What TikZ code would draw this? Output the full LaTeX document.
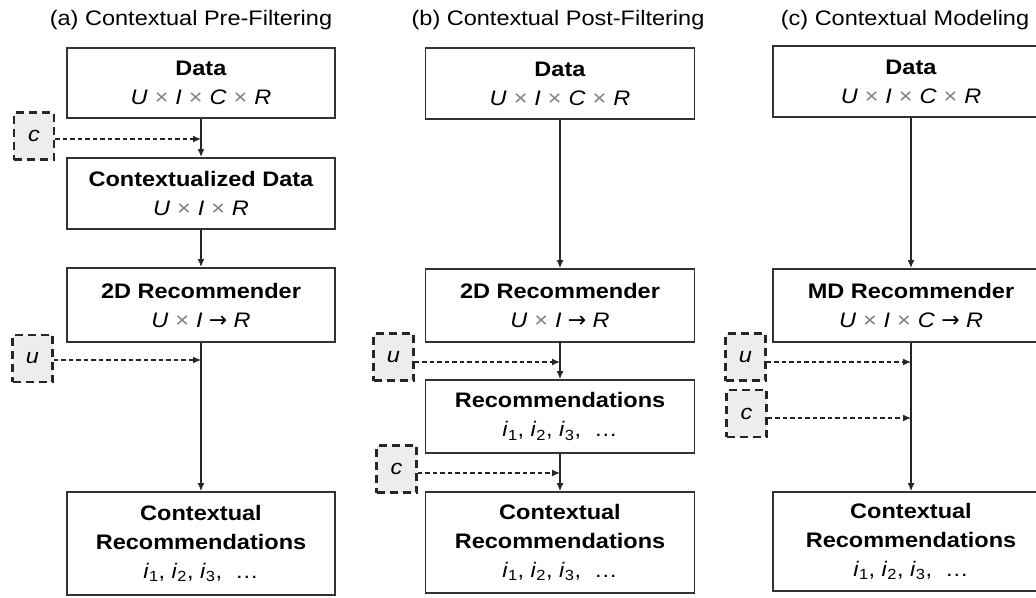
\documentclass[tikz,border=0pt]{standalone}
\usepackage{fontspec}
\setmainfont{Liberation Sans}[FakeStretch=1.12]
\newfontfamily\arrowfont{DejaVu Sans}
\usetikzlibrary{arrows.meta}
\newcommand\mytimes{\hspace{0.33em}{\color{black!50}×}\hspace{0.33em}}
\newcommand\myrarr{\hspace{0.3em}{\arrowfont\fontsize{22}{29}\selectfont →}\hspace{0.3em}}
\newcommand\mylist{\textit{i}\textsubscript{1}, \textit{i}\textsubscript{2}, \textit{i}\textsubscript{3},\ \ …}
\begin{document}
\begin{tikzpicture}[x=1pt,y=-1pt,
  box/.style={draw=black!80, line width=1.8pt, fill=white, align=center, inner sep=0pt,
    font=\fontsize{21}{29}\selectfont},
  colA/.style={box, minimum width=268pt},
  colB/.style={box, minimum width=269pt},
  colC/.style={box, minimum width=276pt},
  dbox/.style={draw=black!85, line width=2.6pt, dash pattern=on 8pt off 5pt, fill=black!7,
    minimum width=40pt, minimum height=47pt, inner sep=0pt, font=\fontsize{21}{25}\selectfont\itshape},
  arr/.style={draw=black!85, line width=1.3pt, -{Latex[length=8pt,width=7pt]}},
  arrb/.style={arr, line width=1.8pt},
  darr/.style={draw=black!85, line width=1.3pt, dash pattern=on 4.5pt off 3pt, -{Latex[length=8pt,width=7pt]}},
  ttl/.style={font=\fontsize{21}{25}\selectfont, inner sep=0pt}]
\useasboundingbox (0,0) rectangle (1036,597);
\clip (0,0) rectangle (1036,597);

% titles
\node[ttl] (ta) at (191,20) {(a) Contextual Pre-Filtering};
\node[ttl] (tb) at (558,20) {(b) Contextual Post-Filtering};
\node[ttl] (tc) at (905,20) {(c) Contextual Modeling};

% column (a)
\node[colA, minimum height=70pt] (a1) at (201,83) {\textbf{Data}\\\textit{U}\mytimes\textit{I}\mytimes\textit{C}\mytimes\textit{R}};
\node[colA, minimum height=71pt] (a2) at (201,193.5) {\textbf{Contextualized Data}\\\textit{U}\mytimes\textit{I}\mytimes\textit{R}};
\node[colA, minimum height=74pt] (a3) at (201,305) {\textbf{2D Recommender}\\\textit{U}\mytimes\textit{I}\myrarr\textit{R}};
\node[colA, minimum height=103pt] (a4) at (201,543.5) {\textbf{Contextual}\\\textbf{Recommendations}\\\mylist};
\node[dbox] (ca) at (34,136) {c};
\node[dbox] (ua) at (32.5,358.5) {u};

\draw[arrb] (a1.south) -- (a2.north);
\draw[arrb] (a2.south) -- (a3.north);
\draw[arr] (a3.south) -- (a4.north);
\draw[darr] ([yshift=-3pt]ca.east) -- ([yshift=-3pt]ca.east -| a1.south);
\draw[darr] ([yshift=-1.5pt]ua.east) -- ([yshift=-1.5pt]ua.east -| a3.south);

% column (b)
\node[colB, minimum height=71pt] (b1) at (560,83.5) {\textbf{Data}\\\textit{U}\mytimes\textit{I}\mytimes\textit{C}\mytimes\textit{R}};
\node[colB, minimum height=73pt] (b2) at (560,305.5) {\textbf{2D Recommender}\\\textit{U}\mytimes\textit{I}\myrarr\textit{R}};
\node[colB, minimum height=73pt] (b3) at (560,416.5) {\textbf{Recommendations}\\\mylist};
\node[colB, minimum height=101pt] (b4) at (560,542.5) {\textbf{Contextual}\\\textbf{Recommendations}\\\mylist};
\node[dbox] (ub) at (393.5,357) {u};
\node[dbox] (cb) at (396.5,469) {c};

\draw[arr] (b1.south) -- (b2.north);
\draw[arr] (b2.south) -- (b3.north);
\draw[arr] (b3.south) -- (b4.north);
\draw[darr] ([yshift=-5pt]ub.east) -- ([yshift=-5pt]ub.east -| b2.south);
\draw[darr] ([yshift=-4pt]cb.east) -- ([yshift=-4pt]cb.east -| b3.south);

% column (c)
\node[colC, minimum height=71pt] (c1) at (911,81.5) {\textbf{Data}\\\textit{U}\mytimes\textit{I}\mytimes\textit{C}\mytimes\textit{R}};
\node[colC, minimum height=73pt] (c2) at (911,305.5) {\textbf{MD Recommender}\\\textit{U}\mytimes\textit{I}\mytimes\textit{C}\myrarr\textit{R}};
\node[colC, minimum height=99pt] (c3) at (911,541.5) {\textbf{Contextual}\\\textbf{Recommendations}\\\mylist};
\node[dbox] (uc) at (745.5,357) {u};
\node[dbox] (cc) at (746.5,413.5) {c};

\draw[arrb] (c1.south) -- (c2.north);
\draw[arr] (c2.south) -- (c3.north);
\draw[darr] ([yshift=-5pt]uc.east) -- ([yshift=-5pt]uc.east -| c2.south);
\draw[darr] ([yshift=-4.5pt]cc.east) -- ([yshift=-4.5pt]cc.east -| c2.south);
\end{tikzpicture}
\end{document}
